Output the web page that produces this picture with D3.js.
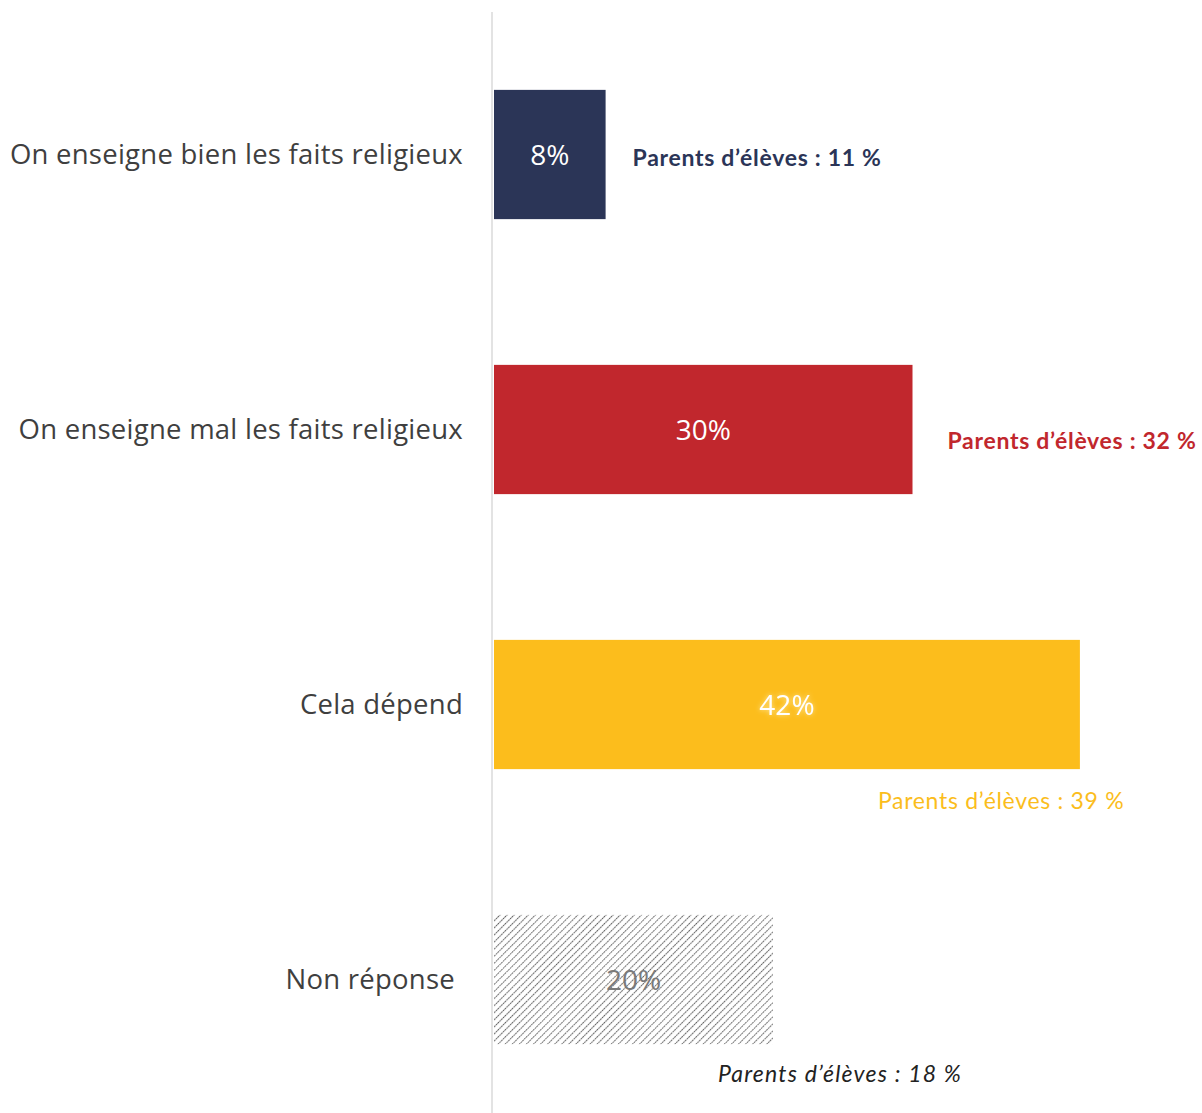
<!DOCTYPE html>
<html><head><meta charset="utf-8">
<script src="https://cdn.jsdelivr.net/npm/d3@7"></script>
<style>body{margin:0;background:#fff}</style>
</head><body>
<svg id="c" width="1202" height="1113"></svg>
<script>
const categories = ["On enseigne bien les faits religieux","On enseigne mal les faits religieux","Cela dépend","Non réponse"];
const values = [8, 30, 42, 20];
const parentValues = [11, 32, 39, 18];
const barColors = ["#2b3557","#c1272d","#fcbd1c","hatch"];
const parentColors = ["#2b3557","#c1272d","#fbbd1c","#222222"];

const svg = d3.select("#c");
const x = d3.scaleLinear().domain([0, 50]).range([494, 494 + 13.95*50]);
const y = d3.scaleBand().domain(categories).range([17, 1117]).paddingInner(0.53).paddingOuter(0.265);

const defs = svg.append("defs");
const pat = defs.append("pattern").attr("id","hatch").attr("patternUnits","userSpaceOnUse")
  .attr("width",5).attr("height",5).attr("patternTransform","rotate(45)");
pat.append("rect").attr("width",5).attr("height",5).attr("fill","#fff");
pat.append("line").attr("x1",0).attr("y1",0).attr("x2",0).attr("y2",5)
  .attr("stroke","#626262").attr("stroke-width",2.1).attr("stroke-dasharray","1.8,0.7");
const glow = defs.append("filter").attr("id","glow").attr("x","-20%").attr("y","-20%").attr("width","140%").attr("height","140%");
glow.append("feGaussianBlur").attr("in","SourceAlpha").attr("stdDeviation",2.5).attr("result","b");
glow.append("feFlood").attr("flood-color","#ffe9a0");
glow.append("feComposite").attr("in2","b").attr("operator","in").attr("result","g");
const fm = glow.append("feMerge");
fm.append("feMergeNode").attr("in","g");
fm.append("feMergeNode").attr("in","SourceGraphic");

// axis line
svg.append("line").attr("x1",x(0)-2).attr("x2",x(0)-2).attr("y1",12).attr("y2",1113)
  .attr("stroke","#e3e3e3").attr("stroke-width",2);

// bars
svg.selectAll("rect.bar").data(categories).join("rect").attr("class","bar")
  .attr("x", x(0)).attr("y", d => y(d))
  .attr("width", (d,i) => x(values[i]) - x(0))
  .attr("height", y.bandwidth())
  .attr("fill", (d,i) => barColors[i] === "hatch" ? "url(#hatch)" : barColors[i]);

// value labels in bars
svg.selectAll("text.val").data(categories).join("text").attr("class","val")
  .attr("x", (d,i) => (x(0) + x(values[i]))/2)
  .attr("y", d => y(d) + y.bandwidth()/2)
  .attr("dy","0.36em").attr("text-anchor","middle")
  .attr("font-family","'Open Sans', sans-serif").attr("font-size",28)
  .attr("fill", (d,i) => i === 3 ? "#7a7a7a" : "#ffffff")
  .attr("filter", (d,i) => i === 2 ? "url(#glow)" : null)
  .text((d,i) => values[i] + "%");

// category labels
svg.selectAll("text.cat").data(categories).join("text").attr("class","cat")
  .attr("x", (d,i) => i === 3 ? 455 : 463)
  .attr("y", d => y(d) + y.bandwidth()/2)
  .attr("dy","0.36em").attr("text-anchor","end")
  .attr("font-family","'Open Sans', sans-serif").attr("font-size",27.5)
  .attr("letter-spacing",0.25)
  .attr("fill","#3f3f3f")
  .text(d => d);

// parents labels (placement per row)
const parentLayout = [
  {dx: 27, dy: 3, weight: "bold", style: "normal", ls: 0.7},
  {dx: 35, dy: 11, weight: "bold", style: "normal", ls: 0.7},
  {dx: -202, dy: 96, weight: "normal", style: "normal", ls: 0.7},
  {dx: -55, dy: 94, weight: "normal", style: "italic", ls: 1.2}
];
svg.selectAll("text.par").data(categories).join("text").attr("class","par")
  .attr("x", (d,i) => x(values[i]) + parentLayout[i].dx)
  .attr("y", (d,i) => y(d) + y.bandwidth()/2 + parentLayout[i].dy)
  .attr("dy","0.36em").attr("text-anchor","start")
  .attr("font-family","Lato, sans-serif").attr("font-size",23)
  .attr("letter-spacing",(d,i) => parentLayout[i].ls)
  .attr("font-weight",(d,i) => parentLayout[i].weight)
  .attr("font-style",(d,i) => parentLayout[i].style)
  .attr("fill",(d,i) => parentColors[i])
  .text((d,i) => "Parents d\u2019élèves : " + parentValues[i] + " %");
</script>
</body></html>
